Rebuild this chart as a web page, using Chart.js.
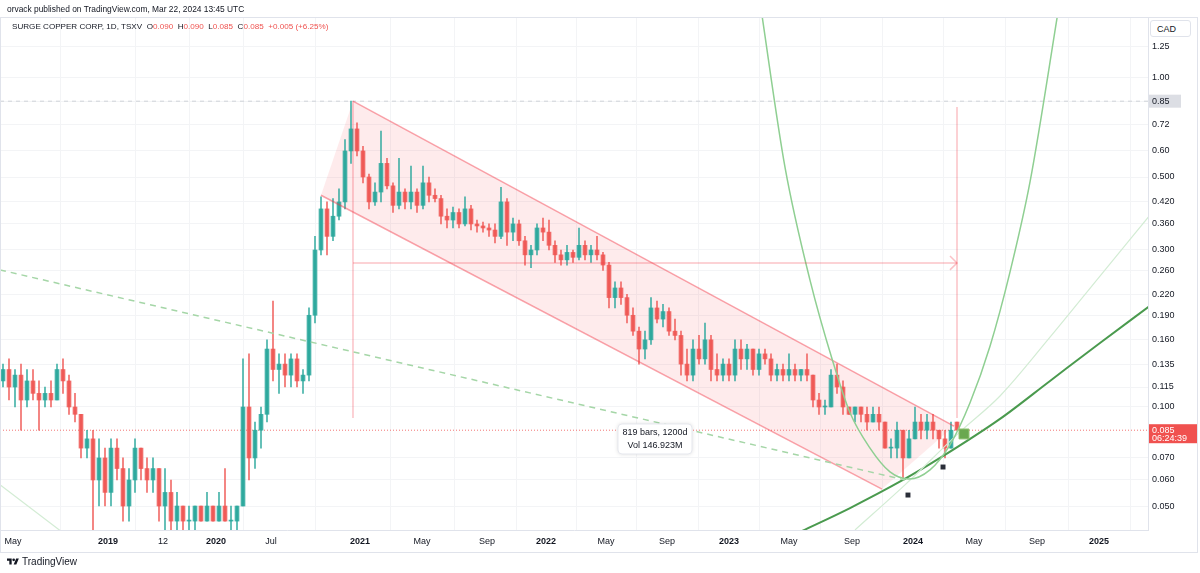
<!DOCTYPE html>
<html>
<head>
<meta charset="utf-8">
<script src="https://cdn.jsdelivr.net/npm/chart.js@4.4.1/dist/chart.umd.min.js"></script>
<style>
  html, body { margin: 0; padding: 0; background: #fff; }
  body { width: 1200px; height: 573px; position: relative; overflow: hidden; font-family: "Liberation Sans", Arial, sans-serif; color: #131722; }
  canvas { position: absolute; left: 0; top: 0; }
  .frame { position: absolute; left: 0; top: 17px; width: 1198px; height: 536px; border: 1px solid #e0e3eb; box-sizing: border-box; pointer-events: none; }
  .pub { position: absolute; left: 7px; top: 4px; font-size: 8.4px; white-space: nowrap; }
  .legend { position: absolute; left: 12px; top: 22px; font-size: 8.1px; white-space: nowrap; }
  .legend .v { color: #ef5350; }
  .cad { position: absolute; left: 1150px; top: 20px; width: 41px; height: 17px; border: 1px solid #e0e3eb; border-radius: 3px; font-size: 9px; line-height: 16px; padding-left: 6px; box-sizing: border-box; background: #fff; }
  .logo { position: absolute; left: 7px; top: 556px; font-size: 10px; display: flex; align-items: center; gap: 3px; }
</style>
</head>
<body>
<canvas id="chart" width="1200" height="573"></canvas>
<div class="frame"></div>
<div class="pub">orvack published on TradingView.com, Mar 22, 2024 13:45 UTC</div>
<div class="legend">SURGE COPPER CORP, 1D, TSXV&nbsp;&nbsp;O<span class="v">0.090</span>&nbsp; H<span class="v">0.090</span>&nbsp; L<span class="v">0.085</span>&nbsp; C<span class="v">0.085</span>&nbsp; <span class="v">+0.005 (+6.25%)</span></div>
<div class="cad">CAD</div>
<div class="logo">
  <svg width="12" height="9" viewBox="0 0 36 26"><path fill="#131722" d="M14 22H7V11H0V4h14v18zM28 22h-8l7.5-18h8L28 22z"/><circle fill="#131722" cx="20" cy="8" r="4"/></svg>
  <span>TradingView</span>
</div>
<script>
// bar slots: each candle aggregates ~6px worth of daily bars, x = slot index
const xTickPos = [2.17, 18, 27.17, 36, 45.17, 60, 70.33, 81.17, 91, 101, 111.17, 121.5, 131.5, 142, 152.17, 162.33, 172.83, 183.17];
const xTickLabels = ["May", "2019", "12", "2020", "Jul", "2021", "May", "Sep", "2022", "May", "Sep", "2023", "May", "Sep", "2024", "May", "Sep", "2025"];
const yTicks = [1.25, 1.0, 0.85, 0.72, 0.6, 0.5, 0.42, 0.36, 0.3, 0.26, 0.22, 0.19, 0.16, 0.135, 0.115, 0.1, 0.07, 0.06, 0.05];
const yTickLabels = ["1.25", "1.00", "0.85", "0.72", "0.60", "0.500", "0.420", "0.360", "0.300", "0.260", "0.220", "0.190", "0.160", "0.135", "0.115", "0.100", "0.070", "0.060", "0.050"];

const opens = [
  .120,.130,.115,.125,.105,.120,.110,.105,.110,.105,
  .130,.120,.100,.095,.075,.080,.060,.070,.055,.075,
  .065,.050,.060,.075,.065,.060,.065,.050,.055,.045,
  .050,.045,.045,.050,.045,.050,.045,.050,.045,.045,
  .050,.100,.070,.085,.095,.150,.130,.135,.125,.140,
  .120,.125,.190,.300,.400,.330,.380,.420,.600,.700,
  .600,.500,.420,.450,.550,.470,.410,.450,.420,.450,
  .410,.480,.440,.430,.380,.370,.390,.360,.400,.360,
  .355,.350,.345,.330,.420,.340,.360,.320,.290,.300,
  .350,.340,.310,.290,.280,.295,.285,.310,.290,.300,
  .290,.270,.215,.230,.215,.190,.170,.150,.160,.200,
  .185,.195,.170,.165,.135,.125,.150,.140,.160,.130,
  .125,.135,.125,.150,.140,.150,.130,.145,.140,.125,
  .130,.125,.130,.125,.130,.125,.105,.100,.100,.125,
  .115,.100,.095,.100,.095,.090,.095,.090,.075,.075,
  .085,.070,.080,.090,.085,.090,.085,.080,.075,.090
];
const highs = [
  .135,.140,.130,.135,.130,.130,.120,.115,.120,.135,
  .140,.125,.110,.095,.085,.085,.080,.075,.080,.080,
  .070,.065,.080,.075,.070,.070,.065,.065,.060,.055,
  .050,.050,.050,.050,.055,.050,.055,.065,.050,.050,
  .140,.145,.090,.100,.160,.210,.145,.145,.145,.145,
  .130,.200,.330,.435,.420,.430,.460,.650,.850,.730,
  .620,.510,.480,.690,.570,.480,.570,.460,.540,.460,
  .540,.500,.460,.440,.400,.405,.400,.435,.410,.370,
  .365,.360,.360,.465,.430,.375,.370,.330,.310,.360,
  .375,.370,.320,.300,.310,.300,.350,.320,.310,.330,
  .295,.275,.240,.240,.220,.200,.175,.170,.215,.210,
  .205,.200,.185,.170,.150,.160,.165,.180,.165,.145,
  .140,.140,.160,.160,.155,.150,.150,.150,.145,.135,
  .135,.145,.135,.130,.145,.125,.110,.105,.130,.135,
  .120,.100,.100,.100,.100,.100,.100,.090,.080,.090,
  .085,.085,.100,.095,.095,.095,.085,.085,.090,.090
];
const lows = [
  .115,.105,.100,.085,.100,.105,.085,.100,.100,.105,
  .110,.095,.090,.070,.070,.042,.050,.050,.050,.060,
  .045,.045,.055,.060,.055,.055,.045,.042,.042,.042,
  .042,.042,.040,.045,.045,.045,.045,.045,.040,.040,
  .050,.060,.065,.075,.090,.120,.110,.115,.115,.115,
  .110,.120,.180,.290,.290,.320,.370,.400,.550,.580,
  .480,.400,.410,.420,.460,.390,.400,.400,.400,.390,
  .400,.420,.420,.360,.350,.350,.350,.355,.345,.340,
  .340,.330,.315,.325,.310,.320,.310,.270,.265,.290,
  .320,.300,.275,.270,.270,.275,.280,.280,.275,.280,
  .260,.200,.200,.205,.180,.165,.135,.140,.155,.180,
  .175,.165,.160,.125,.120,.120,.135,.135,.120,.120,
  .120,.120,.120,.130,.130,.125,.125,.135,.120,.120,
  .120,.120,.120,.120,.120,.100,.095,.095,.100,.110,
  .095,.095,.090,.090,.085,.090,.085,.075,.070,.070,
  .060,.070,.080,.080,.080,.080,.075,.070,.075,.085
];
const closes = [
  .130,.115,.125,.105,.120,.110,.105,.110,.105,.130,
  .120,.100,.095,.075,.080,.060,.070,.055,.075,.065,
  .050,.060,.075,.065,.060,.065,.050,.055,.045,.050,
  .045,.045,.050,.045,.050,.045,.050,.045,.045,.050,
  .100,.070,.085,.095,.150,.130,.135,.125,.140,.120,
  .125,.190,.300,.400,.330,.380,.420,.600,.700,.600,
  .500,.420,.450,.550,.470,.410,.450,.420,.450,.410,
  .480,.440,.430,.380,.370,.390,.360,.400,.360,.355,
  .350,.345,.330,.420,.340,.360,.320,.290,.300,.350,
  .340,.310,.290,.280,.295,.285,.310,.290,.300,.290,
  .270,.215,.230,.215,.190,.170,.150,.160,.200,.185,
  .195,.170,.165,.135,.125,.150,.140,.160,.130,.125,
  .135,.125,.150,.140,.150,.130,.145,.140,.125,.130,
  .125,.130,.125,.130,.125,.105,.100,.100,.125,.115,
  .100,.095,.100,.095,.090,.095,.090,.075,.075,.085,
  .070,.080,.090,.085,.090,.085,.080,.075,.085,.085
];

// drawings (x in slots, y in CAD)
const channelX = [53.5, 58.83, 159, 147];
const channelY = [0.44, 0.85, 0.0875, 0.0563];
const dashedX = [0, 150.83];
const dashedY = [0.261, 0.060];
const parabolaX = [126.67, 130.83, 135, 138.83, 141.67, 145, 148.33, 151.5, 155, 158.33, 161.67, 165, 168.33, 171.67, 176.67];
const parabolaY = [1.70, 0.536, 0.243, 0.137, 0.096, 0.075, 0.0635, 0.0604, 0.0644, 0.0767, 0.103, 0.153, 0.257, 0.483, 1.73];
const darkX = [133.33, 141.67, 150.5, 156.67, 166.67, 175, 183.33, 191.67];
const darkY = [0.0417, 0.0493, 0.060, 0.070, 0.092, 0.120, 0.1565, 0.203];
const lightX = [142.5, 150.83, 160, 166.67, 175, 183.33, 191.67];
const lightY = [0.0423, 0.058, 0.084, 0.108, 0.163, 0.25, 0.383];
const lightLeftX = [0, 10.33];
const lightLeftY = [0.058, 0.0417];
const rangeStart = 58.83, rangeEnd = 159.5;
const rangeTopL = 0.85, rangeTopR = 0.816, rangeLow = 0.0926, rangeMid = 0.274;
const arrowX = [158.33, 159.5, 158.33];
const arrowY = [0.2877, 0.274, 0.261];
const markersX = [151.33, 157.17];
const markersY = [0.054, 0.0657];
const targetX = [160.67];
const targetY = [0.0828];
const rangeText = ["819 bars, 1200d", "Vol 146.923M"];
const highLevel = 0.85;
const lastPrice = 0.085;
const countdown = "06:24:39";

const FONT = '"Liberation Sans", Arial, sans-serif';
const UP = "rgba(38,166,154,0.85)";
const DOWN = "rgba(239,83,80,0.85)";
const XMAX = 1148 / 6;

const pts = (xs, ys) => xs.map((x, i) => ({ x, y: ys[i] }));
const candleColor = opens.map((o, i) => (closes[i] >= o ? UP : DOWN));
const line = (data, color, width, extra = {}) => ({
  type: "line", data, borderColor: color, borderWidth: width, pointRadius: 0, fill: false, order: 1, ...extra,
});
const noPad = (s) => { s.paddingLeft = 0; s.paddingRight = 0; s.paddingTop = 0; s.paddingBottom = 0; };

const overlay = {
  id: "overlay",
  afterDatasetsDraw(chart) {
    const { ctx, scales: { x, y } } = chart;
    const cx = x.getPixelForValue((rangeStart + rangeEnd) / 2);
    const top = y.getPixelForValue(rangeLow) + 6;
    ctx.save();
    ctx.shadowColor = "rgba(0,0,0,0.15)";
    ctx.shadowBlur = 4;
    ctx.fillStyle = "#fff";
    ctx.beginPath();
    ctx.roundRect(cx - 37, top, 74, 30, 4);
    ctx.fill();
    ctx.shadowBlur = 0;
    ctx.strokeStyle = "#e6e8ee";
    ctx.stroke();
    ctx.fillStyle = "#131722";
    ctx.font = "9px " + FONT;
    ctx.textAlign = "center";
    ctx.textBaseline = "middle";
    ctx.fillText(rangeText[0], cx, top + 9);
    ctx.fillText(rangeText[1], cx, top + 22);
    ctx.restore();
  },
  afterDraw(chart) {
    const { ctx, scales: { y }, chartArea } = chart;
    ctx.save();
    ctx.font = "9px " + FONT;
    ctx.textBaseline = "middle";
    const hy = y.getPixelForValue(highLevel);
    ctx.fillStyle = "#dcdee4";
    ctx.fillRect(chartArea.right + 1, hy - 6.5, 32, 13);
    ctx.fillStyle = "#131722";
    ctx.fillText("0.85", chartArea.right + 4, hy);
    const py = y.getPixelForValue(lastPrice);
    ctx.fillStyle = "#f0514f";
    ctx.fillRect(chartArea.right + 1, py - 6, 48, 19);
    ctx.fillStyle = "#fff";
    ctx.fillText("0.085", chartArea.right + 4, py);
    ctx.fillText(countdown, chartArea.right + 4, py + 8.5);
    ctx.restore();
  },
};

new Chart(document.getElementById("chart"), {
  type: "bar",
  data: {
    datasets: [
      line([...pts(channelX, channelY), { x: channelX[0], y: channelY[0] }], "rgba(0,0,0,0)", 0, { fill: "shape", backgroundColor: "rgba(242,54,69,0.1)", order: 20 }),
      line(pts([0, XMAX], [highLevel, highLevel]), "#cfd2d8", 1, { borderDash: [4, 4], order: 19 }),
      line(pts([0, XMAX], [lastPrice, lastPrice]), "rgba(239,83,80,0.8)", 1, { borderDash: [1, 2], order: 18 }),
      { type: "bar", data: lows.map((l, i) => ({ x: i + 0.5, y: [l, highs[i]] })), backgroundColor: candleColor, barThickness: 1, grouped: false, order: 10 },
      { type: "bar", data: opens.map((o, i) => ({ x: i + 0.5, y: [o, closes[i]] })), backgroundColor: candleColor, barThickness: 4, minBarLength: 1, grouped: false, order: 9 },
      line(pts([channelX[1], channelX[2]], [channelY[1], channelY[2]]), "rgba(242,54,69,0.45)", 1.5, { order: 8 }),
      line(pts([channelX[0], channelX[3]], [channelY[0], channelY[3]]), "rgba(242,54,69,0.45)", 1.5, { order: 8 }),
      line(pts(dashedX, dashedY), "#a5d6a7", 1.5, { borderDash: [6, 5] }),
      line(pts([rangeStart, rangeStart], [rangeTopL, rangeLow]), "rgba(242,54,69,0.3)", 1.5),
      line(pts([rangeEnd, rangeEnd], [rangeTopR, rangeLow]), "rgba(242,54,69,0.3)", 1.5),
      line(pts([rangeStart, rangeEnd], [rangeMid, rangeMid]), "rgba(242,54,69,0.3)", 1.5),
      line(pts(arrowX, arrowY), "rgba(242,54,69,0.3)", 1.5),
      line(pts(parabolaX, parabolaY), "#8fcf92", 1.5, { cubicInterpolationMode: "monotone" }),
      line(pts(lightX, lightY), "#d3ecd4", 1.2, { cubicInterpolationMode: "monotone" }),
      line(pts(lightLeftX, lightLeftY), "#d3ecd4", 1.2),
      line(pts(darkX, darkY), "#4a9a4e", 2, { cubicInterpolationMode: "monotone" }),
      { type: "scatter", data: pts(markersX, markersY), pointStyle: "rect", pointRadius: 3.5, backgroundColor: "#2a2e39", borderWidth: 0, order: 0 },
      { type: "scatter", data: pts(targetX, targetY), pointStyle: "rect", pointRadius: 7, backgroundColor: "#6aa84f", borderColor: "#8cc06f", borderWidth: 1, order: 0 },
    ],
  },
  options: {
    responsive: false,
    animation: false,
    events: [],
    layout: { autoPadding: false, padding: { top: 17, left: 0, right: 0, bottom: 20 } },
    plugins: { legend: { display: false }, tooltip: { enabled: false } },
    scales: {
      x: {
        type: "linear",
        min: 0,
        max: XMAX,
        offset: false,
        afterBuildTicks: (s) => { s.ticks = xTickPos.map((v) => ({ value: v })); },
        afterFit: (s) => { s.height = 23; noPad(s); },
        ticks: {
          autoSkip: false,
          maxRotation: 0,
          padding: 6,
          color: "#131722",
          callback: (v, i) => xTickLabels[i],
          font: (c) => ({ family: FONT, size: 9, weight: /^\d{4}$/.test(xTickLabels[c.index] || "") ? "bold" : "normal" }),
        },
        grid: { color: "#f3f4f6", drawTicks: false },
        border: { color: "#e0e3eb" },
      },
      y: {
        type: "logarithmic",
        position: "right",
        min: 0.04228,
        max: 1.532,
        afterBuildTicks: (s) => { s.ticks = yTicks.map((v) => ({ value: v })); },
        afterFit: (s) => { s.width = 52; noPad(s); },
        ticks: {
          autoSkip: false,
          padding: 4,
          color: "#131722",
          font: { family: FONT, size: 9 },
          callback: (v, i) => yTickLabels[i],
        },
        grid: { color: "#f3f4f6", drawTicks: false },
        border: { color: "#e0e3eb" },
      },
    },
  },
  plugins: [overlay],
});
</script>
</body>
</html>
